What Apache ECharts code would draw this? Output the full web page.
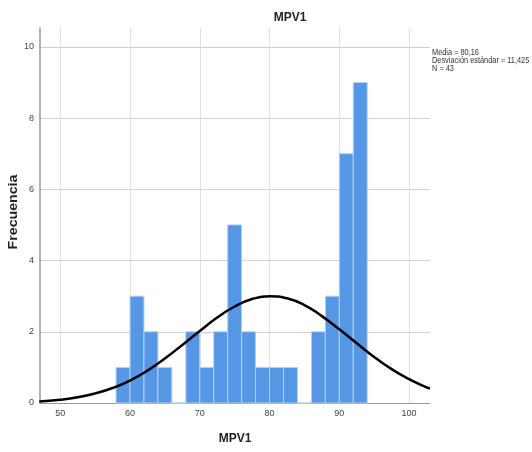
<!DOCTYPE html>
<html>
<head>
<meta charset="utf-8">
<script src="https://cdn.jsdelivr.net/npm/echarts@6/dist/echarts.min.js"></script>
<style>html,body{margin:0;padding:0;background:#fff}#c{width:532px;height:452px}</style>
</head>
<body>
<div id="c"></div>
<script>
// Histogram bins (MPV1), bin width 2
var binStarts = [58, 60, 62, 64, 66, 68, 70, 72, 74, 76, 78, 80, 82, 84, 86, 88, 90, 92];
var binCounts = [1, 3, 2, 1, 0, 2, 1, 2, 5, 2, 1, 1, 1, 0, 2, 3, 7, 9];
var binWidth = 2;
// Normal curve
var curveX = [47, 47.5, 50, 52.5, 55, 57.5, 60, 62.5, 65, 67.5, 70, 72.5, 75, 77.5, 80, 82.5, 85, 87.5, 90, 92.5, 95, 97.5, 100, 102.5, 103];
var curveY = [0.045, 0.05, 0.09, 0.16, 0.27, 0.42, 0.63, 0.91, 1.25, 1.63, 2.02, 2.40, 2.71, 2.92, 3.00, 2.94, 2.75, 2.44, 2.07, 1.68, 1.29, 0.95, 0.67, 0.44, 0.41];
var xTicks = [50, 60, 70, 80, 90, 100];
var yTicks = [0, 2, 4, 6, 8, 10];
var statsLines = ['Media = 80,16', 'Desviación estándar = 11,425', 'N = 43'];

var barData = binStarts.map(function (s, i) { return [s, s + binWidth, binCounts[i]]; });
var curveData = curveX.map(function (x, i) { return [x, curveY[i]]; });

var chart = echarts.init(document.getElementById('c'), null, {renderer: 'canvas'});
chart.setOption({
  animation: false,
  title: {
    text: 'MPV1', left: 285, top: 7, textAlign: 'center',
    textStyle: {fontFamily: 'Liberation Sans, Arial', fontWeight: 'bold', fontSize: 12, color: '#222'}
  },
  grid: {left: 40, right: 102, top: 28, bottom: 49, containLabel: false},
  xAxis: {
    type: 'value', min: 47.1, max: 103,
    name: 'MPV1', nameLocation: 'middle', nameGap: 30,
    nameTextStyle: {fontFamily: 'Liberation Sans, Arial', fontWeight: 'bold', fontSize: 12, color: '#222'},
    axisLine: {show: true, lineStyle: {color: '#999', width: 1}},
    axisTick: {show: false, customValues: xTicks},
    axisLabel: {customValues: xTicks, fontFamily: 'Liberation Sans, Arial', fontSize: 9, color: '#444', margin: 6},
    splitLine: {show: true, lineStyle: {color: '#e0e0e0', width: 1}}
  },
  yAxis: {
    type: 'value', min: 0, max: 10.53,
    axisLine: {show: true, lineStyle: {color: '#999', width: 1.5}},
    axisTick: {show: false, customValues: yTicks},
    axisLabel: {customValues: yTicks, fontFamily: 'Liberation Sans, Arial', fontSize: 9, color: '#444', margin: 6},
    splitLine: {show: true, lineStyle: {color: '#d0d0d0', width: 1}}
  },
  graphic: [
    {type: 'text', x: 432, y: 49, scaleX: 0.82, style: {text: statsLines.join('\n'), fontFamily: 'Liberation Sans, Arial', fontSize: 9, lineHeight: 8, fill: '#333'}},
    {type: 'text', x: 14, y: 212, rotation: Math.PI / 2, scaleX: 1.18, style: {text: 'Frecuencia', fontFamily: 'Liberation Sans, Arial', fontWeight: 'bold', fontSize: 12, fill: '#222', align: 'center', verticalAlign: 'middle'}}
  ],
  series: [
    {
      type: 'custom',
      renderItem: function (params, api) {
        var p0 = api.coord([api.value(0), api.value(2)]);
        var p1 = api.coord([api.value(1), 0]);
        return {
          type: 'rect',
          shape: {x: p0[0], y: p0[1], width: p1[0] - p0[0], height: p1[1] - p0[1]},
          style: {fill: '#5596e5', stroke: '#b7d1f2', lineWidth: 1}
        };
      },
      encode: {x: [0, 1], y: 2},
      data: barData,
      z: 2
    },
    {
      type: 'line', data: curveData, smooth: true, showSymbol: false, symbol: 'none',
      lineStyle: {color: '#000', width: 2.5}, z: 3
    }
  ]
});
</script>
</body>
</html>
